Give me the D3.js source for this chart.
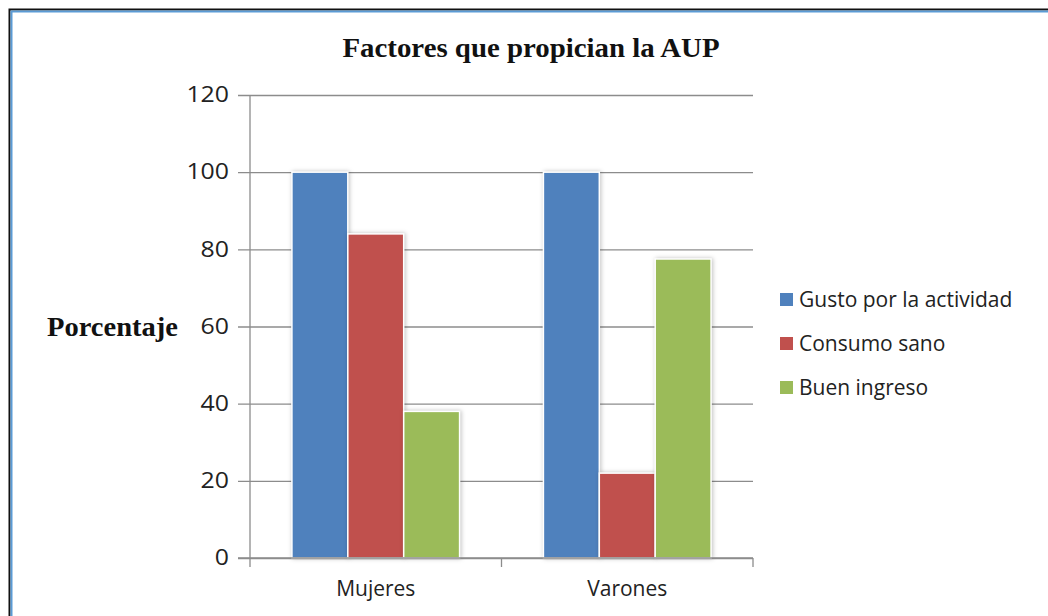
<!DOCTYPE html>
<html>
<head>
<meta charset="utf-8">
<script src="https://cdn.jsdelivr.net/npm/d3@7"></script>
<style>
  body { margin: 0; background: #fff; }
  svg { display: block; }
</style>
</head>
<body>
<div id="chart"></div>
<script>
const categories = ['Mujeres', 'Varones']
const seriesNames = ['Gusto por la actividad', 'Consumo sano', 'Buen ingreso']
const seriesColors = ['#4F81BD', '#C0504D', '#9BBB59']
const gusto = [100, 100]
const consumo = [84, 22]
const ingreso = [38, 77.5]
const yTicks = [0, 20, 40, 60, 80, 100, 120]

const W = 1048, H = 616
const plot = { left: 250, right: 753, top: 95, bottom: 558 }
const sans = 'Open Sans, sans-serif'
const serif = 'Liberation Serif, Times New Roman, serif'

const svg = d3.select('#chart').append('svg')
  .attr('width', W).attr('height', H)

// frame
svg.append('rect')
  .attr('x', 9.5).attr('y', 9.5).attr('width', W + 20).attr('height', H + 20)
  .attr('fill', 'none').attr('stroke', '#111').attr('stroke-width', 2)
svg.append('rect')
  .attr('x', 11.5).attr('y', 11.5).attr('width', W + 20).attr('height', H + 20)
  .attr('fill', 'none').attr('stroke', '#5b9bd5').attr('stroke-width', 2)

const x0 = d3.scaleBand().domain(categories).range([plot.left, plot.right])
const gap = x0.bandwidth() * 0.75 / 4.5
const x1 = d3.scaleBand().domain(d3.range(seriesNames.length))
  .range([gap, x0.bandwidth() - gap])
const y = d3.scaleLinear().domain([0, 120]).range([plot.bottom, plot.top])

// gridlines + y axis
const yAxis = d3.axisLeft(y).tickValues(yTicks)
  .tickSize(-(plot.right - plot.left)).tickSizeOuter(0).tickPadding(21)
const gy = svg.append('g').attr('transform', `translate(${plot.left},0)`).call(yAxis)
gy.select('.domain').remove()
gy.selectAll('.tick line').attr('x1', -12).attr('stroke', '#8c8c8c').attr('stroke-width', 1.3)
gy.selectAll('.tick text')
  .attr('font-family', sans).attr('font-size', 21).attr('fill', '#222')
  .attr('textLength', d => String(d).length * 14.2).attr('lengthAdjust', 'spacingAndGlyphs')
svg.append('line')
  .attr('x1', plot.left).attr('x2', plot.left).attr('y1', plot.top).attr('y2', plot.bottom)
  .attr('stroke', '#8c8c8c').attr('stroke-width', 1.3)

// bars
const series = [gusto, consumo, ingreso]
const rows = []
categories.forEach((c, ci) => series.forEach((s, si) => rows.push({ c, si, v: s[ci] })))
svg.append('g').selectAll('rect').data(rows).join('rect')
  .attr('x', d => x0(d.c) + x1(d.si))
  .attr('y', d => y(d.v))
  .attr('width', x1.bandwidth())
  .attr('height', d => y(0) - y(d.v))
  .attr('fill', d => seriesColors[d.si])
  .attr('stroke', '#fff').attr('stroke-width', 1.5)
  .style('filter', 'drop-shadow(1px 0px 2px rgba(0,0,0,0.25))')

// x axis
const xAxis = d3.axisBottom(x0).tickSize(0).tickPadding(23)
const gx = svg.append('g').attr('transform', `translate(0,${plot.bottom})`).call(xAxis)
gx.select('.domain').remove()
gx.selectAll('.tick text')
  .attr('font-family', sans).attr('font-size', 21).attr('fill', '#222')
svg.append('line')
  .attr('x1', plot.left - 12).attr('x2', plot.right).attr('y1', plot.bottom).attr('y2', plot.bottom)
  .attr('stroke', '#8c8c8c').attr('stroke-width', 1.3)
const bounds = [plot.left, ...categories.slice(1).map(c => x0(c)), plot.right]
svg.append('g').selectAll('line').data(bounds).join('line')
  .attr('x1', d => d).attr('x2', d => d)
  .attr('y1', plot.bottom).attr('y2', plot.bottom + 9)
  .attr('stroke', '#8c8c8c').attr('stroke-width', 1.3)

// title
svg.append('text')
  .attr('x', 531).attr('y', 57)
  .attr('text-anchor', 'middle')
  .attr('font-family', serif)
  .attr('font-weight', 'bold').attr('font-size', 28)
  .attr('textLength', 377).attr('lengthAdjust', 'spacingAndGlyphs')
  .attr('fill', '#111')
  .text('Factores que propician la AUP')

// y label
svg.append('text')
  .attr('x', 47).attr('y', 336)
  .attr('font-family', serif)
  .attr('font-weight', 'bold').attr('font-size', 27)
  .attr('textLength', 131).attr('lengthAdjust', 'spacingAndGlyphs')
  .attr('fill', '#111')
  .text('Porcentaje')

// legend
const legend = svg.append('g').selectAll('g').data(seriesNames).join('g')
  .attr('transform', (d, i) => `translate(780,${299 + i * 44})`)
legend.append('rect')
  .attr('x', 0).attr('y', -6).attr('width', 13).attr('height', 13)
  .attr('fill', (d, i) => seriesColors[i])
legend.append('text')
  .attr('x', 19).attr('y', 7.5)
  .attr('font-family', sans).attr('font-size', 21).attr('fill', '#222')
  .text(d => d)
</script>
</body>
</html>
